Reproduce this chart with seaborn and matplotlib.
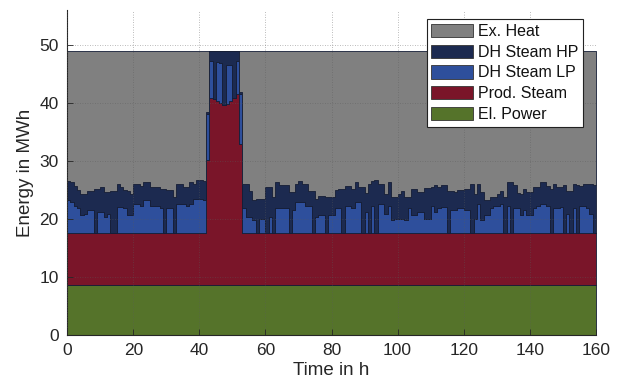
import numpy as np
import pandas as pd
import matplotlib
matplotlib.use("Agg")
import matplotlib.pyplot as plt
from matplotlib.patches import Patch
import seaborn as sns

# Hourly energy balance over one week (160 h), stacked from bottom to top:
# El. Power, Prod. Steam, DH Steam LP, DH Steam HP, Ex. Heat
hours = list(range(160))

layers = ["Ex. Heat", "DH Steam HP", "DH Steam LP", "Prod. Steam", "El. Power"]
colors = ["#808080", "#1c2a50", "#2e4f9c", "#7a1529", "#55732a"]

el_power = [8.6] * 160

prod_steam = ([8.9] * 42
              + [21.5, 32.2, 32.0, 31.7, 31.4, 31.0, 31.2, 31.7, 32.2, 32.9, 24.4]
              + [8.9] * 107)

dh_steam_lp = [
    5.7, 5.4, 4.8, 4.3, 3.1, 3.4, 4.0, 4.0, 0.0, 3.7,
    3.7, 2.8, 3.4, 0.0, 0.0, 4.6, 4.6, 4.3, 3.1, 3.1,
    5.1, 5.1, 4.8, 5.7, 5.7, 4.8, 4.8, 4.8, 4.3, 0.0,
    4.3, 4.3, 0.0, 5.1, 5.1, 5.1, 4.8, 5.1, 6.0, 6.0,
    6.0, 5.7, 8.0, 6.4, 0.0, 6.7, 6.8, 0.0, 6.8, 6.3,
    0.0, 5.7, 8.6, 4.3, 2.8, 2.8, 2.3, 0.0, 2.5, 2.5,
    0.0, 2.8, 0.0, 4.3, 4.3, 4.3, 4.3, 0.0, 4.0, 5.4,
    5.4, 5.4, 4.8, 4.8, 0.0, 2.8, 3.1, 3.1, 0.0, 3.1,
    3.1, 4.3, 4.3, 0.0, 4.8, 4.8, 4.3, 5.4, 5.4, 0.0,
    3.7, 0.0, 4.8, 0.0, 5.1, 5.1, 3.4, 4.8, 2.3, 2.5,
    2.5, 2.5, 2.3, 4.3, 3.1, 3.1, 3.7, 3.7, 2.5, 2.5,
    4.8, 3.7, 4.3, 4.6, 4.6, 0.0, 4.0, 4.0, 4.3, 4.3,
    4.0, 4.0, 0.0, 2.5, 5.1, 2.3, 3.1, 3.1, 4.3, 4.8,
    4.8, 5.1, 0.0, 4.8, 0.0, 4.3, 4.3, 3.1, 4.0, 3.1,
    3.1, 4.3, 4.8, 5.1, 5.1, 4.8, 0.0, 4.3, 4.3, 4.6,
    0.0, 3.4, 0.0, 4.3, 0.0, 4.8, 4.8, 4.3, 3.4, 0.0,
]

dh_steam_hp = [
    3.4, 3.4, 3.4, 3.2, 3.7, 3.4, 3.4, 3.4, 7.7, 4.0,
    4.3, 4.3, 3.7, 7.4, 7.4, 4.0, 3.4, 3.2, 4.3, 3.7,
    3.4, 3.4, 3.4, 3.2, 3.2, 3.2, 3.2, 3.2, 3.4, 7.7,
    3.2, 3.2, 6.3, 3.4, 3.4, 2.9, 3.2, 3.7, 2.6, 3.2,
    3.2, 3.4, 0.3, 1.8, 8.4, 2.0, 2.2, 9.4, 2.4, 2.4,
    8.2, 1.8, 0.3, 4.3, 5.7, 4.6, 3.4, 6.0, 3.4, 3.4,
    8.0, 5.2, 6.3, 4.6, 4.0, 4.0, 4.0, 7.2, 3.2, 3.2,
    3.7, 3.2, 3.7, 2.6, 7.4, 3.2, 3.4, 3.4, 6.3, 3.2,
    3.2, 3.2, 3.4, 7.7, 3.4, 3.4, 3.4, 3.4, 2.6, 8.0,
    3.2, 8.6, 4.3, 9.2, 3.4, 3.4, 3.4, 4.0, 4.0, 3.7,
    4.3, 4.9, 4.0, 2.0, 4.6, 4.6, 3.4, 3.4, 5.4, 5.4,
    3.2, 4.6, 3.7, 3.7, 3.7, 7.4, 3.4, 3.2, 3.2, 3.2,
    3.7, 3.7, 8.6, 4.3, 3.4, 4.9, 2.6, 2.6, 2.0, 1.4,
    2.0, 2.3, 6.3, 4.0, 8.9, 4.0, 2.6, 3.7, 3.7, 4.0,
    4.0, 3.7, 3.2, 3.7, 3.7, 3.4, 7.7, 4.3, 3.7, 3.4,
    8.3, 4.0, 7.4, 4.3, 8.3, 3.4, 3.7, 4.3, 5.2, 8.3,
]

ex_heat = [
    22.4, 22.7, 23.3, 24.0, 24.7, 24.7, 24.1, 24.1, 23.8, 23.8,
    23.5, 24.4, 24.4, 24.1, 24.1, 22.9, 23.5, 24.0, 24.1, 24.7,
    23.0, 23.0, 23.3, 22.6, 22.6, 23.5, 23.5, 23.5, 23.8, 23.8,
    24.0, 24.0, 25.2, 23.0, 23.0, 23.5, 23.5, 22.7, 22.9, 22.3,
    22.3, 22.4, 10.6, 0.0, 0.0, 0.0, 0.0, 0.0, 0.0, 0.0,
    0.0, 0.0, 7.1, 22.9, 23.0, 24.1, 25.8, 25.5, 25.6, 25.6,
    23.5, 23.5, 25.2, 22.6, 23.2, 23.2, 23.2, 24.3, 24.3, 22.9,
    22.4, 22.9, 23.0, 24.1, 24.1, 25.5, 25.0, 25.0, 25.2, 25.2,
    25.2, 24.0, 23.8, 23.8, 23.3, 23.3, 23.8, 22.7, 23.5, 23.5,
    24.6, 22.9, 22.4, 22.3, 23.0, 23.0, 24.7, 22.7, 25.2, 25.3,
    24.7, 24.1, 25.2, 25.2, 23.8, 23.8, 24.4, 24.4, 23.6, 23.6,
    23.5, 23.2, 23.5, 23.2, 23.2, 24.1, 24.1, 24.3, 24.0, 24.0,
    23.8, 23.8, 22.9, 24.7, 23.0, 24.3, 25.8, 25.8, 25.2, 25.3,
    24.7, 24.1, 25.2, 22.7, 22.6, 23.2, 24.6, 24.7, 23.8, 24.4,
    24.4, 23.5, 23.5, 22.7, 22.7, 23.3, 23.8, 22.9, 23.5, 23.5,
    23.2, 24.1, 24.1, 22.9, 23.2, 23.3, 23.0, 22.9, 22.9, 23.2,
]

x_ticks = [0, 20, 40, 60, 80, 100, 120, 140, 160]
y_ticks = [0, 10, 20, 30, 40, 50]

series = {
    "Ex. Heat": ex_heat,
    "DH Steam HP": dh_steam_hp,
    "DH Steam LP": dh_steam_lp,
    "Prod. Steam": prod_steam,
    "El. Power": el_power,
}
df = pd.concat(
    [pd.DataFrame({"hour": hours, "value": vals, "layer": name})
     for name, vals in series.items()],
    ignore_index=True,
)

sns.set_theme(style="white")
plt.rcParams["font.family"] = ["Liberation Sans", "DejaVu Sans"]
text_color = "#262626"

fig = plt.figure(figsize=(6.22, 3.89), dpi=100)
ax = fig.add_axes([0.108, 0.139, 0.850, 0.835])

# Hour-by-hour step areas, stacked (last hue level ends up at the bottom)
sns.histplot(
    data=df, x="hour", weights="value", hue="layer",
    hue_order=layers, palette=colors,
    multiple="stack", element="step", binwidth=1, binrange=(0, 160),
    alpha=1, edgecolor="#141d36", linewidth=0.6,
    legend=False, ax=ax,
)

ax.set_xlim(0, 160)
ax.set_ylim(0, 56)
ax.set_xticks(x_ticks)
ax.set_yticks(y_ticks)

ax.set_axisbelow(False)
ax.grid(True, linestyle=(0, (1, 2)), color="#5a5a5a", linewidth=0.6, alpha=0.55)

for side in ("top", "right"):
    ax.spines[side].set_visible(False)
for side in ("left", "bottom"):
    ax.spines[side].set_color(text_color)
    ax.spines[side].set_linewidth(0.8)

ax.tick_params(axis="both", which="major", bottom=True, left=True,
               direction="in", length=4, width=0.6, color=text_color,
               labelsize=12.5, labelcolor=text_color, pad=6)

ax.set_xlabel("Time in h", fontsize=13.5, color=text_color, labelpad=3)
ax.set_ylabel("Energy in MWh", fontsize=13.5, color=text_color, labelpad=4)

handles = [Patch(facecolor=c, edgecolor="#333333", linewidth=0.6, label=l)
           for l, c in zip(layers, colors)]
leg = ax.legend(
    handles=handles, loc="upper right",
    bbox_to_anchor=(0.937, 0.951), bbox_transform=fig.transFigure,
    frameon=True, fancybox=False, framealpha=1, edgecolor="#222222",
    fontsize=11.5, handlelength=2.6, handleheight=0.9, handletextpad=0.3,
    labelspacing=0.35, borderpad=0.3, borderaxespad=0,
)
leg.get_frame().set_linewidth(0.8)
for t in leg.get_texts():
    t.set_color("#111111")

fig.savefig("out.png", dpi=100)
